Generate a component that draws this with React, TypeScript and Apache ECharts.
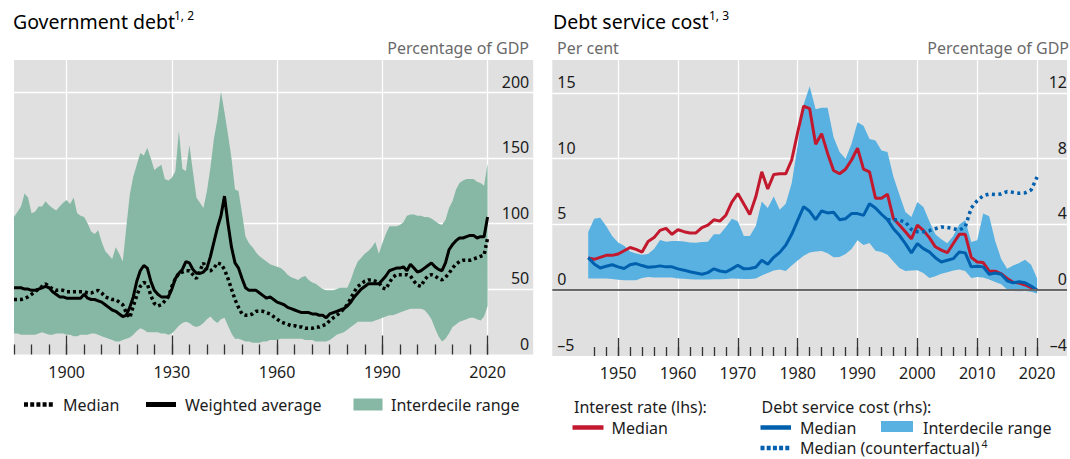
import React, { useEffect, useRef } from 'react';
import * as echarts from 'echarts';

// ---------- Left panel: Government debt (percentage of GDP), 1885–2020 ----------
const GOV_START = 1885;
const GOV_AXIS_START = 1885;
const GOV_AXIS_END = 2033;
const GOV_X_LABELS = [1900, 1930, 1960, 1990, 2020];
const GOV_LAST = 2020;

const GOV_UPPER = [
  105, 109, 113, 123, 120,
  108, 109, 113, 113, 117, 114, 112, 110, 113, 116,
  118, 115, 120, 108, 106, 105, 100, 94, 92, 95,
  86, 79, 76, 73, 82, 77, 71, 97, 122, 136,
  145, 154, 152, 158, 150, 141, 143, 145, 134, 133,
  135, 140, 171, 142, 140, 160, 140, 120, 116, 112,
  125, 143, 165, 180, 201, 185, 168, 150, 126, 125,
  108, 90, 85, 82, 78, 75, 73, 71, 69, 68,
  67, 66, 64, 61, 59, 58, 57, 59, 60, 57,
  55, 54, 52, 50, 49, 49, 49, 50, 51, 51,
  51, 57, 65, 71, 74, 77, 79, 82, 86, 77,
  85, 92, 98, 98, 98, 99, 101, 106, 107, 107,
  106, 106, 105, 105, 104, 102, 100, 99, 103, 112,
  117, 126, 131, 133, 134, 134, 134, 132, 131, 129,
  146,
];

const GOV_LOWER = [
  16, 16, 15, 15, 15,
  15, 15, 16, 17, 16, 15, 15, 16, 16, 16,
  15, 15, 14, 14, 15, 15, 15, 16, 16, 15,
  14, 13, 12, 11, 10, 10, 11, 12, 13, 15,
  18, 20, 19, 17, 17, 17, 17, 16, 16, 15,
  16, 19, 22, 24, 25, 24, 22, 21, 22, 24,
  27, 29, 26, 24, 27, 28, 22, 16, 12, 12,
  11, 10, 10, 9, 9, 9, 10, 10, 11, 11,
  11, 12, 12, 12, 12, 12, 12, 12, 11, 11,
  11, 10, 10, 10, 10, 11, 13, 15, 16, 17,
  19, 21, 23, 25, 25, 25, 25, 25, 26, 27,
  28, 29, 30, 30, 31, 32, 33, 34, 35, 35,
  35, 35, 34, 31, 27, 20, 14, 10, 12, 16,
  21, 23, 25, 26, 27, 28, 28, 27, 26, 29,
  37,
];

const GOV_WEIGHTED = [
  51, 51, 51, 50, 50,
  49, 49, 50, 51, 52, 51, 48, 46, 44, 44,
  43, 43, 43, 43, 43, 46, 43, 42, 42, 41,
  40, 38, 36, 34, 33, 31, 29, 30, 36, 44,
  56, 64, 68, 66, 56, 49, 46, 44, 44, 44,
  50, 58, 62, 65, 71, 70, 65, 62, 62, 63,
  66, 75, 86, 97, 106, 121, 100, 82, 70, 66,
  58, 51, 49, 49, 49, 47, 45, 43, 44, 42,
  40, 39, 38, 36, 35, 34, 33, 32, 32, 32,
  31, 31, 30, 30, 28, 31, 32, 33, 34, 35,
  37, 40, 44, 47, 50, 52, 54, 54, 54, 54,
  57, 60, 64, 65, 66, 66, 67, 64, 69, 66,
  63, 64, 66, 68, 70, 67, 65, 64, 70, 80,
  84, 87, 89, 89, 90, 91, 91, 89, 90, 90,
  105,
];

const GOV_MEDIAN = [
  42, 42, 42, 43, 44,
  46, 48, 50, 52, 54, 52, 50, 49, 49, 49,
  48, 48, 48, 48, 48, 48, 47, 47, 48, 49,
  47, 44, 43, 42, 42, 40, 38, 32, 28, 37,
  45, 52, 55, 54, 45, 39, 37, 38, 41, 44,
  52, 58, 62, 63, 64, 64, 61, 58, 64, 70,
  64, 64, 66, 70, 69, 65, 58, 50, 42, 36,
  31, 30, 30, 31, 33, 33, 33, 32, 31, 29,
  27, 25, 24, 23, 22, 22, 21, 21, 20, 20,
  20, 21, 21, 22, 23, 26, 28, 30, 32, 35,
  38, 43, 48, 52, 54, 56, 57, 57, 56, 55,
  51, 50, 55, 59, 61, 61, 61, 61, 60, 56,
  53, 52, 57, 60, 61, 60, 58, 57, 59, 62,
  66, 69, 71, 72, 72, 72, 73, 74, 75, 76,
  89,
];

// ---------- Right panel: Debt service cost, 1945–2020 ----------
const DSC_START = 1945;
const DSC_AXIS_START = 1939;
const DSC_AXIS_END = 2025;
const DSC_X_LABELS = [1950, 1960, 1970, 1980, 1990, 2000, 2010, 2020];
const DSC_LAST = 2020;
const CF_START = 1995;

// Interest rate median, per cent (lhs)
const RATE_MEDIAN = [
  2.45, 2.35, 2.5, 2.65, 2.65,
  2.75, 3.0, 3.25, 3.1, 2.9, 3.7, 4.0, 4.55, 4.7, 4.25,
  4.6, 4.45, 4.35, 4.35, 4.75, 4.95, 5.35, 5.25, 5.7, 6.7,
  7.35, 6.55, 5.75, 7.1, 9.0, 7.7, 8.8, 8.85, 8.85, 9.9,
  12.0, 14.0, 13.8, 11.1, 11.9, 10.4, 9.1, 8.85, 9.2, 9.9,
  10.8, 9.2, 9.0, 7.0, 7.0, 7.3, 5.45, 4.95, 4.45, 3.9,
  4.95, 4.55, 4.0, 3.3, 3.05, 2.85, 3.55, 4.25, 4.25, 2.5,
  2.15, 2.1, 1.45, 1.45, 1.25, 0.9, 0.6, 0.55, 0.4, 0.2,
  0.0,
];

// Debt service cost median, % of GDP (rhs)
const DSC_MEDIAN = [
  1.98, 1.6, 1.35, 1.46, 1.55,
  1.42, 1.32, 1.55, 1.62, 1.5, 1.4, 1.42, 1.48, 1.42, 1.42,
  1.3, 1.22, 1.12, 1.05, 0.97, 1.07, 1.3, 1.17, 1.11, 1.3,
  1.52, 1.3, 1.32, 1.4, 1.82, 1.58, 2.0, 2.3, 2.73, 3.4,
  4.25, 5.08, 4.8, 4.29, 4.82, 4.7, 4.74, 4.29, 4.35, 4.66,
  4.66, 4.55, 5.26, 5.0, 4.62, 4.29, 3.74, 3.34, 2.83, 2.27,
  2.83, 2.53, 2.33, 1.98, 1.72, 1.82, 1.92, 2.33, 2.27, 1.42,
  1.46, 1.42, 0.97, 1.05, 0.97, 0.57, 0.45, 0.51, 0.45, 0.25,
  0.0,
];

const DSC_UPPER = [
  3.54, 4.35, 4.4, 3.9, 3.3,
  2.9, 2.7, 2.35, 2.23, 2.15, 2.2, 2.5, 3.05, 2.95, 3.0,
  3.0, 2.97, 2.9, 2.88, 2.94, 2.95, 3.4, 3.4, 3.85, 4.35,
  4.2, 3.3, 3.3, 3.9, 5.4, 5.0, 5.7, 4.9, 5.26, 6.5,
  8.8, 11.3, 12.4, 11.0, 11.1, 11.1, 9.3, 8.4, 8.0, 8.9,
  10.22, 10.0, 9.2, 9.1, 8.5, 8.4, 6.9, 5.8, 4.76, 4.45,
  5.36, 5.06, 4.2, 3.4, 3.1, 2.85, 3.3, 4.0, 4.25, 2.94,
  3.04, 4.66, 4.5, 3.0, 1.9, 1.3, 1.5, 1.65, 1.86, 1.55,
  0.71,
];

const DSC_LOWER = [
  0.71, 0.71, 0.71, 0.71, 0.68,
  0.63, 0.61, 0.61, 0.61, 0.75, 0.8, 0.78, 0.77, 0.77, 0.77,
  0.72, 0.7, 0.67, 0.65, 0.65, 0.65, 0.66, 0.67, 0.68, 0.71,
  0.7, 0.69, 0.69, 0.71, 0.9, 1.05, 1.2, 1.26, 1.17, 1.5,
  1.8, 2.1, 2.3, 2.35, 2.39, 2.25, 2.0, 2.02, 2.2, 2.5,
  3.04, 2.75, 2.87, 2.4, 2.33, 2.15, 1.75, 1.35, 1.17, 1.2,
  1.21, 1.05, 0.75, 0.85, 1.0, 1.1, 1.2, 1.26, 1.17, 0.75,
  0.81, 0.78, 0.65, 0.5, 0.36, 0.05, -0.05, -0.06, -0.04, -0.1,
  -0.2,
];

// Counterfactual median, % of GDP (rhs), 1995–2020
const DSC_COUNTERFACTUAL = [
  4.29, 4.29, 4.25, 4.15, 3.7,
  3.55, 3.55, 3.62, 3.74, 3.85, 3.81, 3.75, 3.65, 3.85, 5.0,
  5.45, 5.75, 5.85, 5.82, 5.85, 6.0, 5.95, 5.9, 5.92, 6.1,
  6.88,
];

// ---------- Styling ----------
const FONT = "'Noto Sans', sans-serif";
const BG = '#e0e0e0';
const GREEN = '#87b8a5';
const LIGHT_BLUE = '#58b1e1';
const DARK_BLUE = '#0060ad';
const RED = '#c3192f';
const TEXT = '#1c1c1c';
const GREY_TEXT = '#6a6a6a';
const TICK = '#333333';

function yearRange(a: number, b: number): string[] {
  const r: string[] = [];
  for (let y = a; y <= b; y++) r.push(String(y));
  return r;
}

function place(values: number[], start: number, axisStart: number, axisEnd: number) {
  const out: (number | null)[] = [];
  for (let y = axisStart; y <= axisEnd; y++) {
    const i = y - start;
    out.push(i >= 0 && i < values.length ? values[i] : null);
  }
  return out;
}

function diff(a: number[], b: number[]) {
  return a.map((v, i) => +(v - b[i]).toFixed(3));
}

function buildOption() {
  const govYears = yearRange(GOV_AXIS_START, GOV_AXIS_END);
  const dscYears = yearRange(DSC_AXIS_START, DSC_AXIS_END);
  const gp = (v: number[]) => place(v, GOV_START, GOV_AXIS_START, GOV_AXIS_END);
  const dp = (v: number[], s = DSC_START) => place(v, s, DSC_AXIS_START, DSC_AXIS_END);

  const baseCat = {
    type: 'category',
    boundaryGap: false,
    position: 'bottom',
    axisLine: { show: false, onZero: false },
  };
  const labelStyle = { fontSize: 16, color: TEXT, fontFamily: FONT };

  const yLabel = (extra: any) => ({
    inside: true,
    fontSize: 16,
    color: TEXT,
    fontFamily: FONT,
    verticalAlign: 'bottom',
    lineHeight: 16,
    padding: [0, 0, 3, 0],
    ...extra,
  });

  const fmtNum = (v: number) => (v < 0 ? '\u2013' + Math.abs(v) : String(v));

  const lineBase = {
    type: 'line',
    symbol: 'none',
    showSymbol: false,
    silent: true,
    connectNulls: false,
  };

  const txt = (x: number, y: number, text: string, fontSize: number, fill: string, align = 'left') => ({
    type: 'text',
    x,
    y,
    style: { text, fontSize, fontFamily: FONT, fill, align, verticalAlign: 'middle' },
  });

  return {
    animation: false,
    backgroundColor: '#ffffff',
    textStyle: { fontFamily: FONT },
    grid: [
      { left: 14, top: 60, width: 519.2, height: 294.5, show: true, backgroundColor: BG, borderWidth: 0 },
      { left: 552.3, top: 60, width: 516, height: 296, show: true, backgroundColor: BG, borderWidth: 0 },
    ],
    xAxis: [
      {
        ...baseCat,
        gridIndex: 0,
        data: govYears,
        axisTick: {
          show: true,
          inside: true,
          length: 10,
          interval: (_i: number, v: string) => +v % 5 === 0 && +v <= GOV_LAST,
          lineStyle: { color: TICK, width: 1.3 },
        },
        axisLabel: {
          ...labelStyle,
          margin: 9,
          interval: (_i: number, v: string) => GOV_X_LABELS.includes(+v),
        },
        splitLine: { show: false },
      },
      {
        ...baseCat,
        gridIndex: 0,
        data: govYears,
        axisTick: {
          show: true,
          inside: true,
          length: 19,
          interval: (_i: number, v: string) => GOV_X_LABELS.includes(+v),
          lineStyle: { color: TICK, width: 1.3 },
        },
        axisLabel: { show: false },
        splitLine: {
          show: true,
          interval: (_i: number, v: string) => GOV_X_LABELS.includes(+v),
          lineStyle: { color: '#ffffff', width: 1.3 },
        },
      },
      {
        ...baseCat,
        gridIndex: 1,
        data: dscYears,
        axisTick: {
          show: true,
          inside: true,
          length: 9,
          interval: (_i: number, v: string) => +v % 2 === 0 && +v >= 1946 && +v <= DSC_LAST,
          lineStyle: { color: TICK, width: 1.3 },
        },
        axisLabel: {
          ...labelStyle,
          margin: 9,
          interval: (_i: number, v: string) => DSC_X_LABELS.includes(+v),
        },
        splitLine: { show: false },
      },
      {
        ...baseCat,
        gridIndex: 1,
        data: dscYears,
        axisTick: {
          show: true,
          inside: true,
          length: 18,
          interval: (_i: number, v: string) => DSC_X_LABELS.includes(+v),
          lineStyle: { color: TICK, width: 1.3 },
        },
        axisLabel: { show: false },
        splitLine: {
          show: true,
          interval: (_i: number, v: string) => DSC_X_LABELS.includes(+v),
          lineStyle: { color: '#ffffff', width: 1.3 },
        },
      },
    ],
    yAxis: [
      {
        type: 'value',
        gridIndex: 0,
        position: 'right',
        min: 0,
        max: 225,
        interval: 50,
        axisLine: { show: false },
        axisTick: { show: false },
        axisLabel: yLabel({ margin: 4, formatter: (v: number) => (v % 50 === 0 ? String(v) : '') }),
        splitLine: { show: true, showMinLine: false, showMaxLine: false, lineStyle: { color: '#ffffff', width: 1.3 } },
      },
      {
        type: 'value',
        gridIndex: 1,
        position: 'left',
        min: -5,
        max: 17.5,
        interval: 5,
        axisLine: { show: false },
        axisTick: { show: false },
        axisLabel: yLabel({ margin: 5, formatter: (v: number) => (v % 5 === 0 ? fmtNum(v) : '') }),
        splitLine: { show: true, showMinLine: false, showMaxLine: false, lineStyle: { color: '#ffffff', width: 1.3 } },
      },
      {
        type: 'value',
        gridIndex: 1,
        position: 'right',
        min: -4,
        max: 14,
        interval: 4,
        axisLine: { show: false },
        axisTick: { show: false },
        axisLabel: yLabel({ margin: 0, formatter: (v: number) => (v % 4 === 0 ? fmtNum(v) : '') }),
        splitLine: { show: false },
      },
    ],
    series: [
      {
        ...lineBase,
        name: 'gov-lower',
        xAxisIndex: 0,
        yAxisIndex: 0,
        stack: 'gov',
        stackStrategy: 'all',
        data: gp(GOV_LOWER),
        lineStyle: { opacity: 0 },
      },
      {
        ...lineBase,
        name: 'Interdecile range',
        xAxisIndex: 0,
        yAxisIndex: 0,
        stack: 'gov',
        stackStrategy: 'all',
        data: gp(diff(GOV_UPPER, GOV_LOWER)),
        lineStyle: { opacity: 0 },
        areaStyle: { color: GREEN, opacity: 1 },
      },
      {
        ...lineBase,
        name: 'Weighted average',
        xAxisIndex: 0,
        yAxisIndex: 0,
        data: gp(GOV_WEIGHTED),
        lineStyle: { color: '#000000', width: 3 },
      },
      {
        ...lineBase,
        name: 'Median',
        xAxisIndex: 0,
        yAxisIndex: 0,
        data: gp(GOV_MEDIAN),
        lineStyle: { color: '#000000', width: 3.5, type: [3, 3] },
      },
      {
        ...lineBase,
        name: 'dsc-lower',
        xAxisIndex: 2,
        yAxisIndex: 2,
        stack: 'dsc',
        stackStrategy: 'all',
        data: dp(DSC_LOWER),
        lineStyle: { opacity: 0 },
        markLine: {
          silent: true,
          symbol: ['none', 'none'],
          label: { show: false },
          lineStyle: { color: '#686868', width: 2, type: 'solid' },
          data: [{ yAxis: 0 }],
        },
      },
      {
        ...lineBase,
        name: 'DSC interdecile range',
        xAxisIndex: 2,
        yAxisIndex: 2,
        stack: 'dsc',
        stackStrategy: 'all',
        data: dp(diff(DSC_UPPER, DSC_LOWER)),
        lineStyle: { opacity: 0 },
        areaStyle: { color: LIGHT_BLUE, opacity: 1 },
      },
      {
        ...lineBase,
        name: 'Interest rate median',
        xAxisIndex: 2,
        yAxisIndex: 1,
        data: dp(RATE_MEDIAN),
        lineStyle: { color: RED, width: 3 },
      },
      {
        ...lineBase,
        name: 'Debt service median',
        xAxisIndex: 2,
        yAxisIndex: 2,
        data: dp(DSC_MEDIAN),
        lineStyle: { color: DARK_BLUE, width: 3 },
      },
      {
        ...lineBase,
        name: 'Median (counterfactual)',
        xAxisIndex: 2,
        yAxisIndex: 2,
        data: dp(DSC_COUNTERFACTUAL, CF_START),
        lineStyle: { color: DARK_BLUE, width: 3.5, type: [3, 3.5] },
      },
    ],
    graphic: [
      // Titles
      txt(13, 21, 'Government debt', 19.5, '#000'),
      txt(174, 15.5, '1, 2', 12, '#000'),
      txt(553, 21, 'Debt service cost', 19.5, '#000'),
      txt(709, 15.5, '1, 3', 12, '#000'),
      // Unit labels
      txt(529, 48, 'Percentage of GDP', 16, GREY_TEXT, 'right'),
      txt(557, 48, 'Per cent', 16, GREY_TEXT),
      txt(1069, 48, 'Percentage of GDP', 16, GREY_TEXT, 'right'),
      // Left legend
      { type: 'line', shape: { x1: 24, y1: 404.5, x2: 53, y2: 404.5 }, style: { stroke: '#000', lineWidth: 4.5, lineDash: [4, 2.2] } },
      txt(63, 404.5, 'Median', 16, TEXT),
      { type: 'line', shape: { x1: 146, y1: 404.5, x2: 176, y2: 404.5 }, style: { stroke: '#000', lineWidth: 5 } },
      txt(185, 404.5, 'Weighted average', 16, TEXT),
      { type: 'rect', shape: { x: 353.5, y: 398.5, width: 29, height: 12 }, style: { fill: GREEN } },
      txt(391, 404.5, 'Interdecile range', 16, TEXT),
      // Right legend
      txt(574, 406.5, 'Interest rate (lhs):', 16, TEXT),
      { type: 'line', shape: { x1: 572.5, y1: 427.5, x2: 603.5, y2: 427.5 }, style: { stroke: RED, lineWidth: 4.5 } },
      txt(611.5, 427.5, 'Median', 16, TEXT),
      txt(761.5, 406.5, 'Debt service cost (rhs):', 16, TEXT),
      { type: 'line', shape: { x1: 760.5, y1: 427.5, x2: 791, y2: 427.5 }, style: { stroke: DARK_BLUE, lineWidth: 4.5 } },
      txt(800, 427.5, 'Median', 16, TEXT),
      { type: 'rect', shape: { x: 881, y: 421, width: 32, height: 11 }, style: { fill: LIGHT_BLUE } },
      txt(923, 427.5, 'Interdecile range', 16, TEXT),
      { type: 'line', shape: { x1: 760.5, y1: 448, x2: 791, y2: 448 }, style: { stroke: DARK_BLUE, lineWidth: 4.5, lineDash: [4, 2.2] } },
      {
        type: 'text',
        x: 800,
        y: 448,
        style: {
          text: '{a|Median (counterfactual)}{s|4}',
          fontFamily: FONT,
          fill: TEXT,
          align: 'left',
          verticalAlign: 'middle',
          rich: {
            a: { fontSize: 16, lineHeight: 20, fontFamily: FONT, fill: TEXT },
            s: { fontSize: 10.5, lineHeight: 11, verticalAlign: 'top', fontFamily: FONT, fill: TEXT, padding: [0, 0, 0, 2] },
          },
        },
      },
    ],
  };
}

export default function App() {
  const ref = useRef<HTMLDivElement | null>(null);

  useEffect(() => {
    if (!ref.current) return;
    const chart = echarts.init(ref.current, undefined, { renderer: 'svg' });
    chart.setOption(buildOption() as any);
    return () => {
      chart.dispose();
    };
  }, []);

  return (
    <div
      ref={ref}
      style={{ position: 'fixed', left: 0, top: 0, width: 1070, height: 459, background: '#ffffff' }}
    />
  );
}
